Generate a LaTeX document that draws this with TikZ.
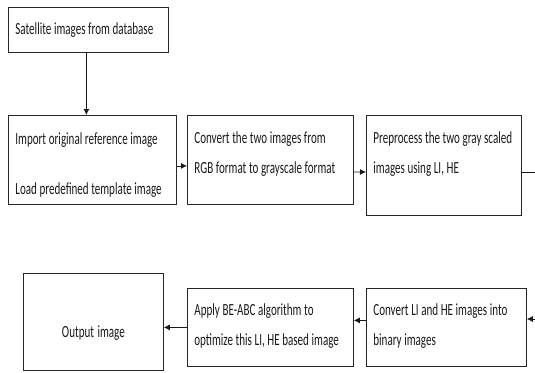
\documentclass[tikz,border=0pt]{standalone}
\usepackage{fontspec}
\setmainfont{Carlito}[FakeStretch=0.65]
\usepackage{tikz}
\usetikzlibrary{arrows.meta}

\begin{document}
\begin{tikzpicture}[
    x=1pt, y=-1pt,
    block/.style={rectangle, draw=black!85, line width=0.8pt, anchor=north west, align=left, inner xsep=7pt, inner ysep=0pt, text=black!90, font=\fontsize{17}{30}\selectfont, execute at begin node={\spaceskip=2.6pt plus 1pt minus 0.5pt\relax}},
    arrow/.style={->,>={Latex[length=6pt,width=6pt]},line width=0.8pt,black!90}
]
    \useasboundingbox (0,0) rectangle (535,372);

    \node[block, text width=146pt, text height=27pt, text depth=18pt] (sat) at (8,7) {Satellite images from database};
    \node[block, text width=154pt, text height=29pt, text depth=60pt] (imp) at (8,115) {Import original reference image\\[20pt]Load predefined template image};
    \node[block, text width=152pt, text height=28pt, text depth=61pt] (conv) at (187,115) {Convert the two images from\\RGB format to grayscale format};
    \node[block, text width=141pt, text height=28pt, text depth=72pt] (pre) at (366,115) {Preprocess the two gray scaled\\images using LI, HE};

    \node[block, text width=146pt, text height=27pt, text depth=51pt] (bin) at (366,288) {Convert LI and HE images into\\binary images};
    \node[block, text width=152pt, text height=27pt, text depth=51pt] (bea) at (187,288) {Apply BE-ABC algorithm to\\optimize this LI, HE based image};
    \node[block, align=center, text width=126pt, text height=64pt, text depth=33pt] (out) at (23,273) {Output image};

    \coordinate (rtop) at (535,172);
    \coordinate (rbot) at (535,319);

    \draw[arrow] ([xshift=-2pt]sat.south) -- ([xshift=-2pt]sat.south |- imp.north);
    \draw[arrow] ([yshift=-6pt]imp.east) -- ([yshift=-6pt]conv.west);
    \draw[arrow] ([yshift=-12pt]conv.east) -- (pre.west |- rtop);
    \draw[line width=0.8pt, black!90] (pre.east |- rtop) -- (rtop);
    \draw[arrow] (rbot) -- (bin.east |- rbot);
    \draw[arrow] ([yshift=7pt]bin.west) -- ([yshift=7pt]bea.east);
    \draw[arrow] (bea.west) -- (out.east |- bea.west);
\end{tikzpicture}
\end{document}
